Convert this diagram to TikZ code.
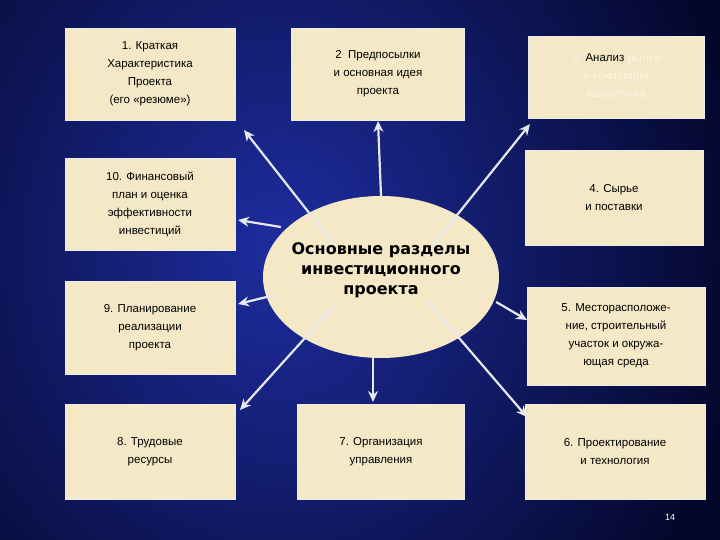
\documentclass[tikz,border=0pt]{standalone}
\usepackage{fontspec}
\setmainfont{Liberation Sans}
\newfontfamily\cfont{DejaVu Sans}
\usetikzlibrary{arrows.meta,shapes.geometric}
\definecolor{boxc}{HTML}{F4E8C6}
\definecolor{faint}{HTML}{FCF5E2}
\definecolor{arr}{HTML}{E6E8F0}
\tikzset{
 sbox/.style={draw=white!85!gray,line width=0.8pt,fill=boxc,minimum width=#1,align=center,
   font=\fontsize{11.5}{18}\selectfont,inner sep=0pt},
 sbox/.default=170pt,
 conn/.style={draw=arr,line width=2.2pt,-{Stealth[length=11pt,width=10pt]}}
}
\begin{document}
\begin{tikzpicture}[x=1pt,y=-1pt]
\useasboundingbox (0,0) rectangle (720,540);
\begin{scope}
\clip (0,0) rectangle (720,540);
\shade[inner color={rgb,255:red,30;green,45;blue,160},outer color={rgb,255:red,3;green,6;blue,40}] (-200,-300) rectangle (760,800);
\end{scope}
% boxes
\node[sbox,minimum height=92pt] (b1) at (150,74) {1. Краткая\\Характеристика\\Проекта\\(его «резюме»)};
\node[sbox=173pt,minimum height=92pt] (b2) at (378,74) {2 \ Предпосылки\\и основная идея\\проекта};
\node[sbox=176pt,minimum height=82pt] (b3) at (616,77) {\color{faint}3. \color{black}Анализ \color{faint}рынка\\\color{faint}и концепция\\\color{faint}маркетинга};
\node[sbox,minimum height=92pt] (b10) at (150,204) {10. Финансовый\\план и оценка\\эффективности\\инвестиций};
\node[sbox=178pt,minimum height=95pt] (b4) at (614,198) {4. Сырье\\и поставки};
\node[sbox,minimum height=93pt] (b9) at (150,328) {9. Планирование\\реализации\\проекта};
\node[sbox=178pt,minimum height=98pt] (b5) at (616,336) {5. Месторасположе-\\ние, строительный\\участок и окружа-\\ющая среда};
\node[sbox,minimum height=95pt] (b8) at (150,452) {8. Трудовые\\ресурсы};
\node[sbox=167pt,minimum height=95pt] (b7) at (381,452) {7. Организация\\управления};
\node[sbox=180pt,minimum height=95pt] (b6) at (615,452) {6. Проектирование\\и технология};
% center
\node[ellipse,fill=boxc,minimum width=236pt,minimum height=162pt,inner sep=0pt] (c) at (381,277) {};
\node[align=center,font=\cfont\bfseries\fontsize{16}{20}\selectfont] (ct) at (381,270) {Основные разделы\\инвестиционного\\проекта};
\node[text=white,font=\fontsize{9}{10}\selectfont] (pg) at (670,517) {14};
% connectors
\coordinate (t1) at (244,130);
\coordinate (t2) at (378,121);
\coordinate (t3) at (530,124);
\coordinate (t10) at (238,220);
\coordinate (t9) at (238,304);
\coordinate (t5) at (527,320);
\coordinate (t6) at (527,417);
\coordinate (t7) at (373,402);
\coordinate (t8) at (240,410);
\draw[conn] (c.north west) ++(35,23) -- (t1);
\draw[conn] (c.north) -- (t2);
\draw[conn] (c.north east) ++(-32,26) -- (t3);
\draw[conn] (c.west) ++(18,-50) -- (t10);
\draw[conn] (c.west) ++(12,18) -- (t9);
\draw[conn] (c.east) ++(-3,25) -- (t5);
\draw[conn] (c.south east) ++(-37,-33) -- (t6);
\draw[conn] (c.south) ++(-8,0) -- (t7);
\draw[conn] (c.south west) ++(36,-28) -- (t8);
\end{tikzpicture}
\end{document}
